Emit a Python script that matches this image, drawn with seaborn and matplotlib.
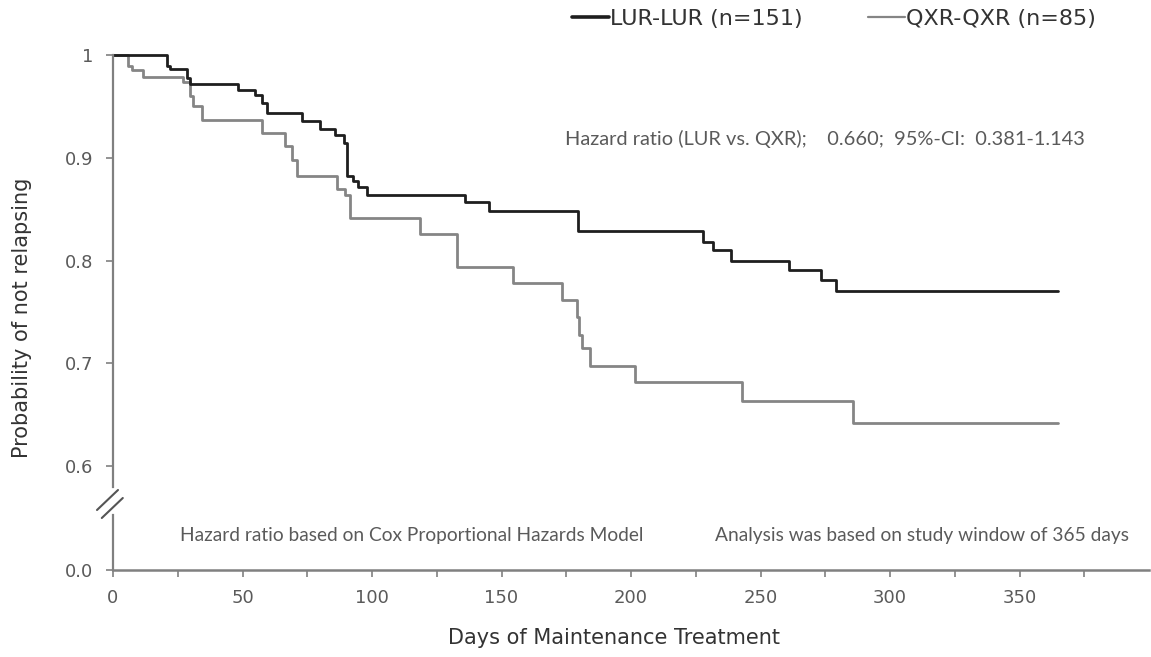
import numpy as np
import pandas as pd
import matplotlib
matplotlib.use("Agg")
import matplotlib.pyplot as plt
from matplotlib.lines import Line2D
import seaborn as sns

# ---- data ----
lur_days = [0, 20.7, 22, 28.4, 29.7, 48.4, 55, 57.5, 59.3, 72.8, 80, 85.7, 89,
            90.2, 92.8, 94.7, 98, 136, 145, 179.5, 227.9, 231.8, 238.8, 261.1,
            273.2, 279.2, 365]
lur_surv = [1.0, 0.989, 0.986, 0.978, 0.972, 0.966, 0.961, 0.953, 0.944, 0.936,
            0.928, 0.922, 0.914, 0.882, 0.877, 0.872, 0.864, 0.857, 0.848, 0.829,
            0.818, 0.810, 0.800, 0.791, 0.781, 0.770, 0.770]

qxr_days = [0, 5.9, 7.5, 11.7, 27, 29.7, 31, 34.2, 57.4, 66.4, 69, 70.9, 86.4,
            89.6, 91.5, 118.5, 132.8, 154.5, 173.4, 179, 180, 181, 184.2, 201.5,
            243, 285.7, 365]
qxr_surv = [1.0, 0.989, 0.985, 0.979, 0.974, 0.960, 0.950, 0.937, 0.924, 0.911,
            0.898, 0.882, 0.870, 0.864, 0.841, 0.826, 0.794, 0.778, 0.762, 0.745,
            0.728, 0.715, 0.697, 0.682, 0.663, 0.642, 0.642]

series_labels = ["LUR-LUR (n=151)", "QXR-QXR (n=85)"]
x_ticks = [0, 50, 100, 150, 200, 250, 300, 350]
x_minor = [25, 75, 125, 175, 225, 275, 325, 375]
y_ticks_top = [0.6, 0.7, 0.8, 0.9, 1.0]
y_ticklabels_top = ["0.6", "0.7", "0.8", "0.9", "1"]
y_ticks_bot = [0.0]
y_ticklabels_bot = ["0.0"]

hr_text = "Hazard ratio (LUR vs. QXR);    0.660;  95%-CI:  0.381-1.143"
note_left = "Hazard ratio based on Cox Proportional Hazards Model"
note_right = "Analysis was based on study window of 365 days"
x_label = "Days of Maintenance Treatment"
y_label = "Probability of not relapsing"

# ---- styling ----
sns.set_theme(style="white")
plt.rcParams["font.family"] = ["DejaVu Sans"]

W_PX, H_PX = 1151, 657
fig = plt.figure(figsize=(W_PX / 100, H_PX / 100), dpi=100)
fig.patch.set_facecolor("white")

def fx(px):
    return px / W_PX

def fy(py):
    return 1 - py / H_PX

left, right = 113, 1149
ax_top = fig.add_axes([fx(left), fy(486.6), (right - left) / W_PX, (486.6 - 55) / H_PX])
ax_bot = fig.add_axes([fx(left), fy(570), (right - left) / W_PX, (570 - 515) / H_PX],
                      sharex=ax_top)

spine_col = "#808080"
lur_col = "#1e1e1e"
qxr_col = "#858585"

df = pd.concat([
    pd.DataFrame({"day": lur_days, "surv": lur_surv, "group": series_labels[0]}),
    pd.DataFrame({"day": qxr_days, "surv": qxr_surv, "group": series_labels[1]}),
])

for lab, col, lw in [(series_labels[1], qxr_col, 2.0), (series_labels[0], lur_col, 2.0)]:
    sub = df[df["group"] == lab]
    sns.lineplot(data=sub, x="day", y="surv", ax=ax_top, color=col, lw=lw,
                 drawstyle="steps-post", estimator=None, sort=False,
                 clip_on=False, legend=False)

ax_top.set_xlim(0, 400)
ax_top.set_ylim(0.58, 1.0)
ax_bot.set_ylim(0.0, 0.05)

for ax in (ax_top, ax_bot):
    ax.set_facecolor("none")
    for s in ["top", "right"]:
        ax.spines[s].set_visible(False)
    ax.spines["left"].set_color(spine_col)
    ax.spines["left"].set_linewidth(1.6)
    ax.set_xlabel("")
    ax.set_ylabel("")
    ax.tick_params(axis="y", which="both", direction="out", length=5, width=1.2,
                   color=spine_col, pad=9, labelsize=13, labelcolor="#5a5a5a", left=True)

ax_top.spines["bottom"].set_visible(False)
ax_top.tick_params(axis="x", which="both", bottom=False, labelbottom=False)
ax_top.set_yticks(y_ticks_top, labels=y_ticklabels_top)

ax_bot.spines["bottom"].set_color(spine_col)
ax_bot.spines["bottom"].set_linewidth(1.8)
ax_bot.set_yticks(y_ticks_bot, labels=y_ticklabels_bot)
ax_bot.set_xticks(x_ticks, labels=[str(v) for v in x_ticks])
ax_bot.set_xticks(x_minor, minor=True)
ax_bot.tick_params(axis="x", which="both", direction="out", length=5, width=1.2,
                   color=spine_col, pad=9, labelsize=13, labelcolor="#5a5a5a", bottom=True)

# break marks on the y axis
for off in (0, 8):
    fig.add_artist(Line2D([fx(97 + off * 0.6), fx(118 + off * 0.6)],
                          [fy(510 + off), fy(490 + off)],
                          transform=fig.transFigure, color="#555555", lw=1.5))

# axis labels
fig.text(fx(614), fy(638), x_label, ha="center", va="center", fontsize=15, color="#333333")
fig.text(fx(22), fy(318), y_label, ha="center", va="center", rotation=90,
         fontsize=15, color="#333333")

# annotations
ann_font = ["Lato", "DejaVu Sans"]
fig.text(fx(565), fy(139), hr_text, ha="left", va="center", fontsize=14.4,
         color="#5a5a5a", family=ann_font)
fig.text(fx(180), fy(535), note_left, ha="left", va="center", fontsize=13.8,
         color="#5a5a5a", family=ann_font)
fig.text(fx(715), fy(535), note_right, ha="left", va="center", fontsize=13.8,
         color="#5a5a5a", family=ann_font)

# legend
handles = [Line2D([], [], color=lur_col, lw=2.6), Line2D([], [], color=qxr_col, lw=1.6)]
fig.legend(handles, series_labels, loc="center left", bbox_to_anchor=(fx(572), fy(19)),
           ncol=2, frameon=False, fontsize=16, handlelength=1.65, handletextpad=0.05,
           columnspacing=2.95, borderpad=0, borderaxespad=0, labelcolor="#333333")

fig.savefig("out.png", dpi=100, facecolor="white")
